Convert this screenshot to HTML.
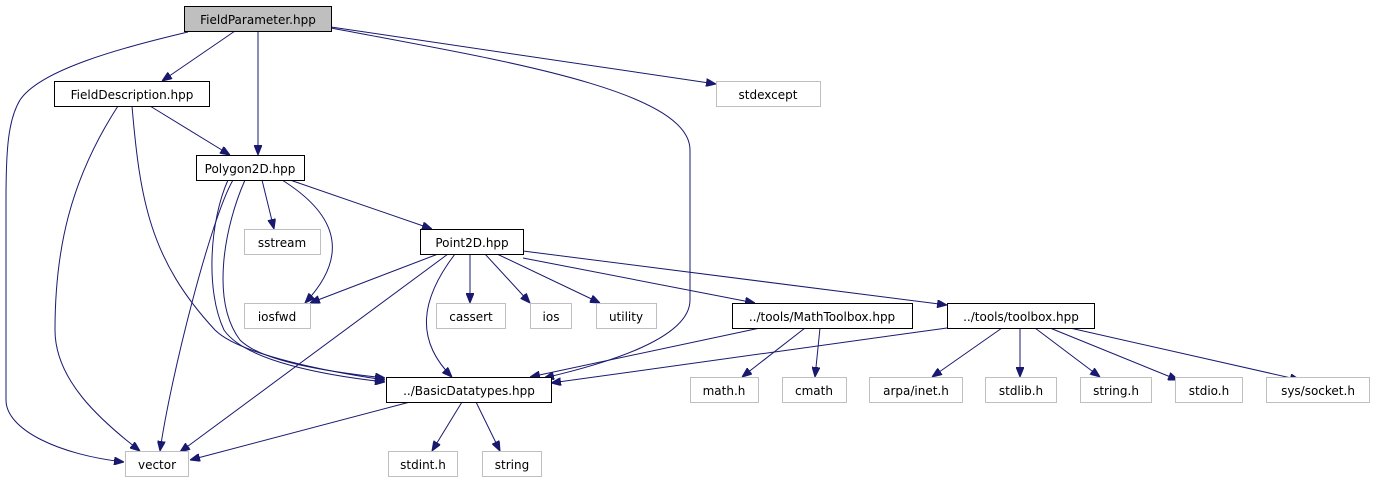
<!DOCTYPE html>
<html><head><meta charset="utf-8"><style>
html,body{margin:0;padding:0;background:#fff;}
svg{display:block;}
text{font-family:"DejaVu Sans","Liberation Sans",sans-serif;font-size:12px;text-anchor:middle;fill:#000;}
</style></head><body>
<svg width="1374" height="485" viewBox="0 0 1374 485" xmlns="http://www.w3.org/2000/svg">
<defs>
<marker id="a" markerWidth="10" markerHeight="8" refX="10" refY="4" orient="auto" markerUnits="userSpaceOnUse">
<path d="M0,0 L10,4 L0,8 z" fill="#191970" stroke="#191970"/>
</marker>
</defs>
<g fill="none" stroke="#191970" stroke-width="1" marker-end="url(#a)">
<path d="M235,31 L162,81"/>
<path d="M258,31 L258,155"/>
<path d="M188,32 C120,48 40,70 20,100 C8,120 6,150 6,200 L6,400 C6,430 60,455 124,462"/>
<path d="M331,28 C500,60 690,90 690,150 L690,300 C690,340 600,365 544,378"/>
<path d="M331,27 L716,84"/>
<path d="M150,106 L230,155"/>
<path d="M118,106 C70,180 55,250 55,330 C55,380 100,420 140,451"/>
<path d="M132,106 C140,200 150,260 215,330 C240,355 330,372 385,380"/>
<path d="M262,180 L274,229"/>
<path d="M282,180 C330,210 355,250 305,303"/>
<path d="M290,180 L432,229"/>
<path d="M233,180 C210,220 170,380 160,451"/>
<path d="M245,180 C225,225 210,300 240,340 C262,362 330,372 385,378"/>
<path d="M228,180 C210,220 205,290 224,330 C246,362 330,376 385,382"/>
<path d="M438,254 L310,303"/>
<path d="M448,254 L180,452"/>
<path d="M455,254 C420,300 415,340 452,377"/>
<path d="M470,254 L470,303"/>
<path d="M485,254 L530,303"/>
<path d="M497,254 L600,303"/>
<path d="M523,258 L755,303"/>
<path d="M523,251 L947,305"/>
<path d="M760,328 L530,377"/>
<path d="M805,328 L742,377"/>
<path d="M820,328 L815,377"/>
<path d="M947,328 L551,383"/>
<path d="M1002,328 L932,377"/>
<path d="M1020,328 L1020,377"/>
<path d="M1035,328 L1100,377"/>
<path d="M1050,328 L1178,380"/>
<path d="M1070,328 L1300,380"/>
<path d="M410,402 L190,460"/>
<path d="M462,402 L432,451"/>
<path d="M476,402 L500,451"/>
</g>
<g stroke-width="1">
<rect x="184.5" y="6.5" width="147" height="25" fill="#bfbfbf" stroke="#000"/>
<rect x="54.5" y="81.5" width="155" height="25" fill="#fff" stroke="#000"/>
<rect x="716.5" y="81.5" width="104" height="25" fill="#fff" stroke="#bfbfbf"/>
<rect x="196.5" y="155.5" width="108" height="25" fill="#fff" stroke="#000"/>
<rect x="244.5" y="229.5" width="76" height="25" fill="#fff" stroke="#bfbfbf"/>
<rect x="420.5" y="229.5" width="103" height="25" fill="#fff" stroke="#000"/>
<rect x="244.5" y="303.5" width="66" height="25" fill="#fff" stroke="#bfbfbf"/>
<rect x="436.5" y="303.5" width="69" height="25" fill="#fff" stroke="#bfbfbf"/>
<rect x="530.5" y="303.5" width="41" height="25" fill="#fff" stroke="#bfbfbf"/>
<rect x="596.5" y="303.5" width="60" height="25" fill="#fff" stroke="#bfbfbf"/>
<rect x="732.5" y="303.5" width="180" height="25" fill="#fff" stroke="#000"/>
<rect x="947.5" y="303.5" width="147" height="25" fill="#fff" stroke="#000"/>
<rect x="386.5" y="377.5" width="165" height="25" fill="#fff" stroke="#000"/>
<rect x="690.5" y="377.5" width="68" height="25" fill="#fff" stroke="#bfbfbf"/>
<rect x="782.5" y="377.5" width="64" height="25" fill="#fff" stroke="#bfbfbf"/>
<rect x="869.5" y="377.5" width="93" height="25" fill="#fff" stroke="#bfbfbf"/>
<rect x="985.5" y="377.5" width="71" height="25" fill="#fff" stroke="#bfbfbf"/>
<rect x="1080.5" y="377.5" width="71" height="25" fill="#fff" stroke="#bfbfbf"/>
<rect x="1175.5" y="377.5" width="67" height="25" fill="#fff" stroke="#bfbfbf"/>
<rect x="1266.5" y="377.5" width="103" height="25" fill="#fff" stroke="#bfbfbf"/>
<rect x="125.5" y="451.5" width="63" height="25" fill="#fff" stroke="#bfbfbf"/>
<rect x="388.5" y="451.5" width="69" height="25" fill="#fff" stroke="#bfbfbf"/>
<rect x="482.5" y="451.5" width="59" height="25" fill="#fff" stroke="#bfbfbf"/>
</g>
<text x="258" y="24">FieldParameter.hpp</text>
<text x="132" y="99">FieldDescription.hpp</text>
<text x="768" y="99">stdexcept</text>
<text x="250" y="173">Polygon2D.hpp</text>
<text x="282" y="247">sstream</text>
<text x="472" y="247">Point2D.hpp</text>
<text x="277" y="321">iosfwd</text>
<text x="471" y="321">cassert</text>
<text x="551" y="321">ios</text>
<text x="626" y="321">utility</text>
<text x="822" y="321">../tools/MathToolbox.hpp</text>
<text x="1021" y="321">../tools/toolbox.hpp</text>
<text x="469" y="395">../BasicDatatypes.hpp</text>
<text x="724" y="395">math.h</text>
<text x="814" y="395">cmath</text>
<text x="916" y="395">arpa/inet.h</text>
<text x="1021" y="395">stdlib.h</text>
<text x="1116" y="395">string.h</text>
<text x="1209" y="395">stdio.h</text>
<text x="1318" y="395">sys/socket.h</text>
<text x="157" y="469">vector</text>
<text x="423" y="469">stdint.h</text>
<text x="512" y="469">string</text>
</svg>
</body></html>
